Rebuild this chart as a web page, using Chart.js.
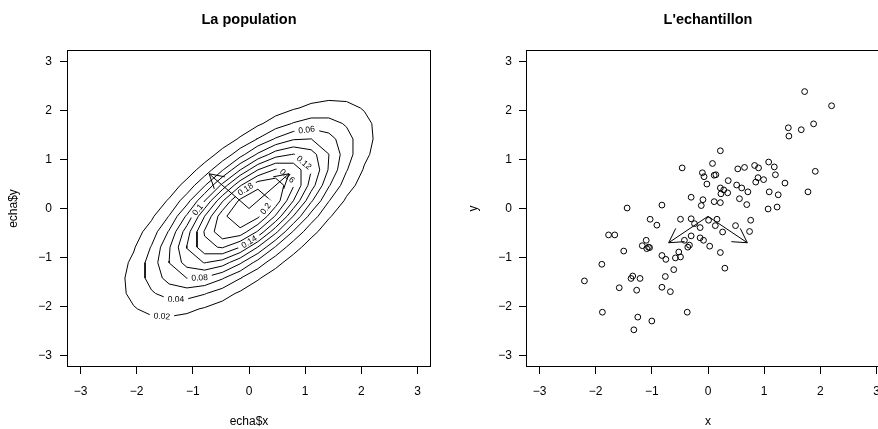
<!DOCTYPE html>
<html>
<head>
<meta charset="utf-8">
<script src="https://cdn.jsdelivr.net/npm/chart.js@4.4.1/dist/chart.umd.min.js"></script>
<style>
  html, body { margin: 0; padding: 0; background: #fff; overflow: hidden; width: 878px; height: 429px; }
  #left { position: absolute; left: 0; top: 0; }
  #right { position: absolute; left: 439px; top: 0; }
</style>
</head>
<body>
<div id="left"><canvas id="pop" width="439" height="429"></canvas></div>
<div id="right"><canvas id="ech" width="460" height="429"></canvas></div>
<script>
// axes
const tickValues = [-3, -2, -1, 0, 1, 2, 3];
const axisMin = -3.24, axisMax = 3.24;

// contour levels of the population density, and where R put each label
const levels = [0.02, 0.04, 0.06, 0.08, 0.1, 0.12, 0.14, 0.16, 0.18, 0.2];
const contourLabelAt = [
  [-1.55, -2.19], [-1.30, -1.82], [1.03, 1.58], [-0.88, -1.40], [-0.92, -0.02],
  [0.93, 0.87], [0.0, -0.68], [0.63, 0.60], [-0.06, 0.39], [0.29, 0.0]
];

// contour lines (x, y)
const contour002 = [[1.691,0.158],[1.737,0.249],[1.892,0.474],[2.025,0.790],[2.053,0.890],[2.148,1.105],[2.209,1.421],[2.186,1.737],[2.053,1.986],[1.986,2.053],[1.737,2.186],[1.421,2.209],[1.105,2.148],[0.890,2.053],[0.790,2.025],[0.474,1.892],[0.249,1.737],[0.158,1.691],[-0.158,1.467],[-0.211,1.421],[-0.474,1.226],[-0.604,1.105],[-0.790,0.938],[-0.938,0.790],[-1.105,0.604],[-1.226,0.474],[-1.421,0.211],[-1.467,0.158],
  [-1.691,-0.158],[-1.737,-0.249],[-1.892,-0.474],[-2.025,-0.790],[-2.053,-0.890],[-2.148,-1.105],[-2.209,-1.421],[-2.186,-1.737],[-2.053,-1.986],[-1.986,-2.053],[-1.737,-2.186],[-1.421,-2.209],[-1.105,-2.148],[-0.890,-2.053],[-0.790,-2.025],[-0.474,-1.892],[-0.249,-1.737],[-0.158,-1.691],[0.158,-1.467],[0.211,-1.421],[0.474,-1.226],[0.604,-1.105],[0.790,-0.938],[0.938,-0.790],[1.105,-0.604],[1.226,-0.474],[1.421,-0.211],[1.467,-0.158]];
const contour004 = [[1.432,0.158],[1.631,0.474],[1.737,0.757],[1.754,0.790],[1.850,1.105],[1.851,1.421],[1.737,1.664],[1.664,1.737],[1.421,1.851],[1.105,1.850],[0.790,1.754],[0.757,1.737],[0.474,1.631],[0.158,1.432],[0.143,1.421],[-0.158,1.230],[-0.303,1.105],[-0.474,0.969],[-0.663,0.790],[-0.790,0.663],[-0.969,0.474],[-1.105,0.303],[-1.230,0.158],[-1.421,-0.143],
  [-1.432,-0.158],[-1.631,-0.474],[-1.737,-0.757],[-1.754,-0.790],[-1.850,-1.105],[-1.851,-1.421],[-1.737,-1.664],[-1.664,-1.737],[-1.421,-1.851],[-1.105,-1.850],[-0.790,-1.754],[-0.757,-1.737],[-0.474,-1.631],[-0.158,-1.432],[-0.143,-1.421],[0.158,-1.230],[0.303,-1.105],[0.474,-0.969],[0.663,-0.790],[0.790,-0.663],[0.969,-0.474],[1.105,-0.303],[1.230,-0.158],[1.421,0.143]];
const contour006 = [[1.279,0.158],[1.421,0.441],[1.442,0.474],[1.575,0.790],[1.624,1.105],[1.543,1.421],[1.421,1.543],[1.105,1.624],[0.790,1.575],[0.474,1.442],[0.441,1.421],[0.158,1.279],[-0.075,1.105],[-0.158,1.050],[-0.459,0.790],[-0.474,0.777],[-0.777,0.474],[-0.790,0.459],[-1.050,0.158],[-1.105,0.075],
  [-1.279,-0.158],[-1.421,-0.441],[-1.442,-0.474],[-1.575,-0.790],[-1.624,-1.105],[-1.543,-1.421],[-1.421,-1.543],[-1.105,-1.624],[-0.790,-1.575],[-0.474,-1.442],[-0.441,-1.421],[-0.158,-1.279],[0.075,-1.105],[0.158,-1.050],[0.459,-0.790],[0.474,-0.777],[0.777,-0.474],[0.790,-0.459],[1.050,-0.158],[1.105,-0.075]];
const contour008 = [[1.131,0.158],[1.305,0.474],[1.406,0.790],[1.421,1.074],[1.423,1.105],[1.421,1.111],[1.111,1.421],[1.105,1.423],[1.074,1.421],[0.790,1.406],[0.474,1.305],[0.158,1.131],[0.124,1.105],[-0.158,0.918],[-0.307,0.790],[-0.474,0.644],[-0.644,0.474],[-0.790,0.307],[-0.918,0.158],[-1.105,-0.124],
  [-1.131,-0.158],[-1.305,-0.474],[-1.406,-0.790],[-1.421,-1.074],[-1.423,-1.105],[-1.421,-1.111],[-1.111,-1.421],[-1.105,-1.423],[-1.074,-1.421],[-0.790,-1.406],[-0.474,-1.305],[-0.158,-1.131],[-0.124,-1.105],[0.158,-0.918],[0.307,-0.790],[0.474,-0.644],[0.644,-0.474],[0.790,-0.307],[0.918,-0.158],[1.105,0.124]];
const contour010 = [[1.013,0.158],[1.105,0.349],[1.175,0.474],[1.259,0.790],[1.201,1.105],[1.105,1.201],[0.790,1.259],[0.474,1.175],[0.349,1.105],[0.158,1.013],[-0.154,0.790],[-0.158,0.787],[-0.474,0.510],[-0.510,0.474],[-0.787,0.158],[-0.790,0.154],
  [-1.013,-0.158],[-1.105,-0.349],[-1.175,-0.474],[-1.259,-0.790],[-1.201,-1.105],[-1.105,-1.201],[-0.790,-1.259],[-0.474,-1.175],[-0.349,-1.105],[-0.158,-1.013],[0.154,-0.790],[0.158,-0.787],[0.474,-0.510],[0.510,-0.474],[0.787,-0.158],[0.790,-0.154]];
const contour012 = [[0.901,0.158],[1.049,0.474],[1.105,0.759],[1.112,0.790],[1.105,0.814],[0.814,1.105],[0.790,1.112],[0.759,1.105],[0.474,1.049],[0.158,0.901],[0.002,0.790],[-0.158,0.678],[-0.386,0.474],[-0.474,0.386],[-0.678,0.158],[-0.790,-0.002],
  [-0.901,-0.158],[-1.049,-0.474],[-1.105,-0.759],[-1.112,-0.790],[-1.105,-0.814],[-0.814,-1.105],[-0.790,-1.112],[-0.759,-1.105],[-0.474,-1.049],[-0.158,-0.901],[-0.002,-0.790],[0.158,-0.678],[0.386,-0.474],[0.474,-0.386],[0.678,-0.158],[0.790,0.002]];
const contour014 = [[0.790,0.158],[0.926,0.474],[0.926,0.790],[0.790,0.926],[0.474,0.926],[0.158,0.790],[-0.158,0.569],[-0.264,0.474],[-0.474,0.264],[-0.569,0.158],
  [-0.790,-0.158],[-0.926,-0.474],[-0.926,-0.790],[-0.790,-0.926],[-0.474,-0.926],[-0.158,-0.790],[0.158,-0.569],[0.264,-0.474],[0.474,-0.264],[0.569,-0.158]];
const contour016 = [[0.671,0.158],[0.790,0.442],[0.803,0.474],[0.790,0.563],[0.563,0.790],[0.474,0.803],[0.442,0.790],[0.158,0.671],[-0.137,0.474],[-0.158,0.458],[-0.458,0.158],[-0.474,0.137],
  [-0.671,-0.158],[-0.790,-0.442],[-0.803,-0.474],[-0.790,-0.563],[-0.563,-0.790],[-0.474,-0.803],[-0.442,-0.790],[-0.158,-0.671],[0.137,-0.474],[0.158,-0.458],[0.458,-0.158],[0.474,-0.137]];
const contour018 = [[0.553,0.158],[0.620,0.474],[0.474,0.620],[0.158,0.553],[0.040,0.474],[-0.158,0.325],[-0.325,0.158],[-0.474,-0.040],
  [-0.553,-0.158],[-0.620,-0.474],[-0.474,-0.620],[-0.158,-0.553],[-0.040,-0.474],[0.158,-0.325],[0.325,-0.158],[0.474,0.040]];
const contour020 = [[0.394,0.158],[0.158,0.394],[-0.158,0.192],[-0.192,0.158],[-0.394,-0.158],[-0.158,-0.394],[0.158,-0.192],[0.192,-0.158]];
const contours = [contour002, contour004, contour006, contour008, contour010, contour012, contour014, contour016, contour018, contour020];

// arrows: [x0, y0, x1, y1]
const popArrows = [[0, 0, -0.71, 0.71], [0, 0, 0.71, 0.71]];
const echArrows = [[0, -0.16, -0.70, -0.70], [0, -0.16, 0.70, -0.70]];

// the sample
const sampleX = [1.72, 2.20, 1.43, 1.44, 1.66, 1.88, 1.91, 1.78, 0.22, -0.46, 0.08, -0.10, -0.07, 0.11, 0.14, -0.02,
  0.53, 0.65, 0.83, 0.90, 1.08, 1.18, 1.20, 0.89, 0.85, 0.99, 1.37, 0.36, 0.22, 0.28, 0.51, 0.60, 0.71, 0.35, 0.23,
  1.09, 1.25, 0.56, -0.30, -0.09, 0.11, 0.22, -0.12, 0.69, 1.07, 1.23, -1.44, -0.82,
  -1.03, -0.91, -0.49, -0.30, -0.24, -0.14, 0.01, 0.16, 0.13, 0.26, 0.49, 0.76, 0.74, -1.77, -1.66,
  -0.30, -0.42, -0.14, -0.08, -0.33, -0.36, 0.03, -1.10, -1.17, -1.06, -1.04, -1.09,
  -1.50, 0.22, -0.82, -0.75, -0.58, -0.49, -0.52, -0.61, 0.30,
  -1.89, -2.20, -1.34, -1.37, -1.21, -0.76, -1.58, -1.27, -0.82, -0.67, -1.88, -1.25, -1.00, -1.32, -0.37];
const sampleY = [2.39, 2.10, 1.65, 1.48, 1.61, 1.73, 0.76, 0.34, 1.18, 0.83, 0.92, 0.73, 0.65, 0.68, 0.69, 0.50,
  0.81, 0.84, 0.88, 0.83, 0.95, 0.85, 0.69, 0.63, 0.54, 0.59, 0.52, 0.57, 0.42, 0.38, 0.48, 0.42, 0.34, 0.32, 0.30,
  0.34, 0.28, 0.20, 0.23, 0.18, 0.14, 0.12, 0.06, 0.08, -0.01, 0.03, 0.01, 0.07,
  -0.22, -0.34, -0.22, -0.21, -0.31, -0.39, -0.24, -0.22, -0.35, -0.48, -0.35, -0.24, -0.47, -0.54, -0.54,
  -0.56, -0.65, -0.60, -0.65, -0.75, -0.79, -0.77, -0.65, -0.76, -0.79, -0.80, -0.82,
  -0.87, -0.90, -0.96, -1.04, -1.01, -0.99, -0.89, -1.25, -1.22,
  -1.14, -1.48, -1.38, -1.43, -1.43, -1.39, -1.62, -1.67, -1.61, -1.70, -2.12, -2.22, -2.30, -2.48, -2.12];

const FONT = "'Liberation Sans', Arial, Helvetica, sans-serif";
Chart.defaults.font.family = FONT;
Chart.defaults.color = '#000';

function fmtTick(v) {
  return v < 0 ? '\u2212' + Math.abs(v) : String(v);
}

// where a contour label sits: nearest point of the line to the reading, turned along the line
function labelGeom(chart, ds) {
  const xs = chart.scales.x, ys = chart.scales.y;
  const P = ds.data.map(p => [xs.getPixelForValue(p.x), ys.getPixelForValue(p.y)]);
  const tx = xs.getPixelForValue(ds.labelAt[0]), ty = ys.getPixelForValue(ds.labelAt[1]);
  let best = null;
  for (let i = 0; i < P.length - 1; i++) {
    const [x1, y1] = P[i], [x2, y2] = P[i + 1];
    const dx = x2 - x1, dy = y2 - y1, L2 = dx * dx + dy * dy || 1;
    let t = ((tx - x1) * dx + (ty - y1) * dy) / L2;
    t = Math.max(0, Math.min(1, t));
    const qx = x1 + t * dx, qy = y1 + t * dy;
    const d = (qx - tx) * (qx - tx) + (qy - ty) * (qy - ty);
    if (!best || d < best.d) best = { d, x: qx, y: qy, a: Math.atan2(dy, dx) };
  }
  let a = best.a;
  if (a > Math.PI / 2) a -= Math.PI;
  if (a < -Math.PI / 2) a += Math.PI;
  const ctx = chart.ctx;
  ctx.save();
  ctx.font = '8.5px ' + FONT;
  const w = ctx.measureText(ds.labelText).width;
  ctx.restore();
  return { x: best.x, y: best.y, angle: a, w: w + 8, h: 9 };
}

function arrowHead(ctx, x0, y0, x1, y1) {
  const a = Math.atan2(y1 - y0, x1 - x0), L = 16, th = Math.PI / 6;
  ctx.beginPath();
  ctx.moveTo(x1 - L * Math.cos(a - th), y1 - L * Math.sin(a - th));
  ctx.lineTo(x1, y1);
  ctx.lineTo(x1 - L * Math.cos(a + th), y1 - L * Math.sin(a + th));
  ctx.stroke();
}

const rStyle = {
  id: 'rstyle',
  beforeDatasetDraw(chart, args) {
    const ds = chart.data.datasets[args.index];
    if (ds.labelText == null) return;
    // break the line under its label
    const g = labelGeom(chart, ds);
    const ctx = chart.ctx;
    ctx.save();
    ctx.beginPath();
    ctx.rect(0, 0, chart.width, chart.height);
    const c = Math.cos(g.angle), s = Math.sin(g.angle);
    const hw = g.w / 2, hh = g.h / 2;
    [[-hw, -hh], [hw, -hh], [hw, hh], [-hw, hh]].forEach(([px, py], k) => {
      const X = g.x + px * c - py * s, Y = g.y + px * s + py * c;
      if (k) ctx.lineTo(X, Y); else ctx.moveTo(X, Y);
    });
    ctx.closePath();
    ctx.clip('evenodd');
  },
  afterDatasetDraw(chart, args) {
    const ds = chart.data.datasets[args.index];
    if (ds.labelText == null) return;
    chart.ctx.restore();
  },
  afterDatasetsDraw(chart, args, opts) {
    const ctx = chart.ctx, xs = chart.scales.x, ys = chart.scales.y;
    ctx.save();
    ctx.fillStyle = '#000';
    ctx.font = '8.5px ' + FONT;
    ctx.textAlign = 'center';
    ctx.textBaseline = 'middle';
    chart.data.datasets.forEach(ds => {
      if (ds.labelText == null) return;
      const g = labelGeom(chart, ds);
      ctx.save();
      ctx.translate(g.x, g.y);
      ctx.rotate(g.angle);
      ctx.fillText(ds.labelText, 0, 0.5);
      ctx.restore();
    });
    ctx.strokeStyle = '#000';
    ctx.lineWidth = 1;
    (opts.arrows || []).forEach(a => {
      arrowHead(ctx, xs.getPixelForValue(a[0]), ys.getPixelForValue(a[1]),
        xs.getPixelForValue(a[2]), ys.getPixelForValue(a[3]));
    });
    ctx.restore();
  },
  afterDraw(chart, args, opts) {
    const ctx = chart.ctx, ca = chart.chartArea;
    ctx.save();
    ctx.strokeStyle = '#000';
    ctx.lineWidth = 1;
    const l = Math.round(ca.left) + 0.5, t = Math.round(ca.top) + 0.5;
    const r = Math.round(ca.right) - 0.5, b = Math.round(ca.bottom) - 0.5;
    ctx.strokeRect(l, t, r - l, b - t);
    ctx.fillStyle = '#000';
    ctx.font = 'bold 14.5px ' + FONT;
    ctx.textAlign = 'center';
    ctx.textBaseline = 'middle';
    ctx.fillText(opts.title, (ca.left + ca.right) / 2, 19.5);
    ctx.restore();
  }
};

function axis(titleText, isY, yWidth, titlePad, tickPad) {
  return {
    type: 'linear',
    min: axisMin,
    max: axisMax,
    afterBuildTicks: s => { s.ticks = tickValues.map(v => ({ value: v })); },
    afterFit: s => { if (isY) s.width = yWidth; else s.height = 62; },
    grid: { drawOnChartArea: false, drawTicks: true, tickLength: 7, tickColor: '#000', tickWidth: 1 },
    border: { display: false },
    ticks: { color: '#000', padding: tickPad, maxRotation: 0, autoSkip: false, font: { size: 12 }, callback: fmtTick },
    title: { display: true, text: titleText, color: '#000', font: { size: 12 },
      padding: isY ? { top: titlePad, bottom: 0 } : { top: 0, bottom: titlePad } }
  };
}

function shaft(a) {
  return { data: [{ x: a[0], y: a[1] }, { x: a[2], y: a[3] }], showLine: true, borderColor: '#000',
    borderWidth: 1, pointRadius: 0, tension: 0, fill: false };
}

const contourSets = contours.map((pts, i) => ({
  data: pts.concat([pts[0]]).map(p => ({ x: p[0], y: p[1] })),
  labelText: String(levels[i]),
  labelAt: contourLabelAt[i],
  showLine: true, borderColor: '#000', borderWidth: 1, pointRadius: 0, tension: 0, fill: false
}));

new Chart(document.getElementById('pop'), {
  type: 'scatter',
  data: { datasets: contourSets.concat(popArrows.map(shaft)) },
  options: {
    responsive: false, animation: false, events: [],
    layout: { padding: { left: 0, right: 8, top: 50, bottom: 0 } },
    plugins: { legend: { display: false }, tooltip: { enabled: false },
      rstyle: { title: 'La population', arrows: popArrows } },
    scales: { x: axis('echa$x', false, 0, 0, 10), y: axis('echa$y', true, 67, 6, 8) }
  },
  plugins: [rStyle]
});

new Chart(document.getElementById('ech'), {
  type: 'scatter',
  data: {
    datasets: [{
      data: sampleX.map((x, i) => ({ x: x, y: sampleY[i] })),
      pointStyle: 'circle', pointRadius: 2.9, pointBorderWidth: 1,
      pointBorderColor: '#000', pointBackgroundColor: 'rgba(0,0,0,0)'
    }].concat(echArrows.map(shaft))
  },
  options: {
    responsive: false, animation: false, events: [],
    layout: { padding: { left: 0, right: 9, top: 50, bottom: 0 } },
    plugins: { legend: { display: false }, tooltip: { enabled: false },
      rstyle: { title: "L'echantillon", arrows: echArrows } },
    scales: { x: axis('x', false, 0, 0, 10), y: axis('y', true, 87, 27, 7) }
  },
  plugins: [rStyle]
});
</script>
</body>
</html>
